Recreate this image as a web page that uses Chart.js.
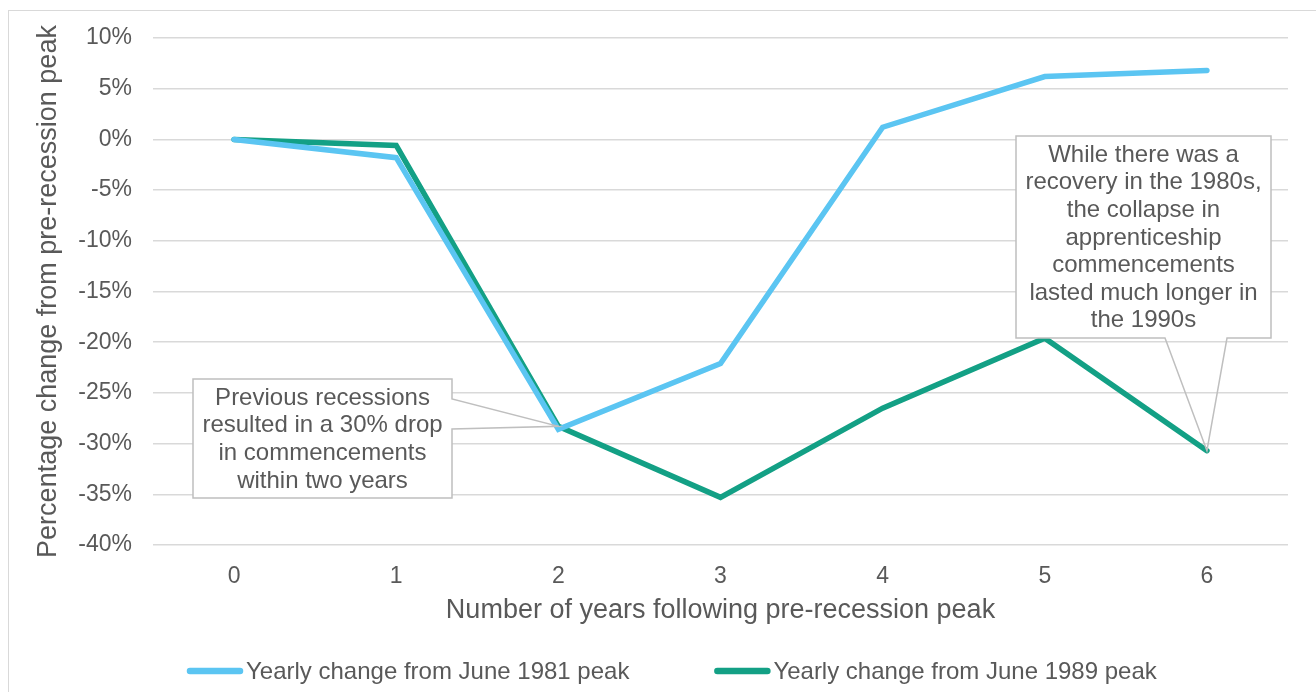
<!DOCTYPE html>
<html>
<head>
<meta charset="utf-8">
<script src="https://cdn.jsdelivr.net/npm/chart.js@4.4.1/dist/chart.umd.min.js"></script>
<style>
  html, body { margin: 0; padding: 0; background: #fff; }
  #wrap { position: relative; width: 1316px; height: 692px; overflow: hidden; }
  #frame { position: absolute; left: 8px; top: 10px; width: 1400px; height: 800px;
           border-left: 1.5px solid #d9d9d9; border-top: 1.5px solid #d9d9d9; box-sizing: border-box; }
  canvas { position: absolute; left: 0; top: 0; }
</style>
</head>
<body>
<div id="wrap">
  <div id="frame"></div>
  <canvas id="c" width="1316" height="692"></canvas>
</div>
<script>
// Years after the pre-recession peak
const years = ['0', '1', '2', '3', '4', '5', '6'];

// Percentage change in apprenticeship commencements from the peak
const peak1981 = [0, -1.8, -28.6, -22.1, 1.2, 6.2, 6.8];
const peak1989 = [0, -0.6, -28.3, -35.3, -26.5, -19.6, -30.7];

const seriesNames = ['Yearly change from June 1981 peak', 'Yearly change from June 1989 peak'];

// Y axis range and step (percent)
const yMin = -40;
const yMax = 10;
const yStep = 5;

const xTitle = 'Number of years following pre-recession peak';
const yTitle = 'Percentage change from pre-recession peak';

const note1 = ['Previous recessions', 'resulted in a 30% drop', 'in commencements', 'within two years'];
const note2 = ['While there was a', 'recovery in the 1980s,', 'the collapse in', 'apprenticeship',
               'commencements', 'lasted much longer in', 'the 1990s'];

const FONT = '"Liberation Sans", Arial, sans-serif';
const TEXT = '#595959';
const BLUE = '#5BC5F2';
const TEAL = '#13A085';

// Callout boxes with a wedge pointing at a point of the 1989 series
const calloutPlugin = {
  id: 'callouts',
  afterDatasetsDraw(chart, args, opts) {
    const ctx = chart.ctx;
    const xs = chart.scales.x, ys = chart.scales.y;
    opts.items.forEach(it => {
      const ds = chart.data.datasets[it.dataset];
      const ax = xs.getPixelForValue(it.index);
      const ay = ys.getPixelForValue(ds.data[it.index]);
      const b = it.box;
      const L = b.x, T = b.y, R = b.x + b.w, B = b.y + b.h;
      ctx.save();
      ctx.fillStyle = '#ffffff';
      ctx.fillRect(L, T, b.w, b.h);
      ctx.strokeStyle = '#bfbfbf';
      ctx.lineWidth = 1.5;
      ctx.lineJoin = 'miter';
      ctx.beginPath();
      ctx.moveTo(L, T);
      ctx.lineTo(R, T);
      if (it.side === 'right') {
        ctx.lineTo(R, T + it.w1);
        ctx.lineTo(ax, ay);
        ctx.lineTo(R, T + it.w2);
        ctx.lineTo(R, B);
        ctx.lineTo(L, B);
      } else {
        ctx.lineTo(R, B);
        ctx.lineTo(L + it.w2, B);
        ctx.lineTo(ax, ay);
        ctx.lineTo(L + it.w1, B);
        ctx.lineTo(L, B);
      }
      ctx.closePath();
      ctx.stroke();
      ctx.fillStyle = TEXT;
      ctx.font = '24px ' + FONT;
      ctx.textAlign = 'center';
      ctx.textBaseline = 'middle';
      const lh = 27.6;
      const cx = L + b.w / 2;
      const cy = T + b.h / 2 + 1;
      const n = it.text.length;
      it.text.forEach((t, i) => ctx.fillText(t, cx, cy + (i - (n - 1) / 2) * lh));
      ctx.restore();
    });
  }
};

// Legend row below the x axis title
const legendPlugin = {
  id: 'lineLegend',
  afterDraw(chart, args, opts) {
    const ctx = chart.ctx;
    ctx.save();
    ctx.font = '24px ' + FONT;
    ctx.textBaseline = 'middle';
    ctx.textAlign = 'left';
    let x = opts.x;
    chart.data.datasets.forEach(ds => {
      ctx.strokeStyle = ds.borderColor;
      ctx.lineWidth = 6.5;
      ctx.lineCap = 'round';
      ctx.beginPath();
      ctx.moveTo(x + 3, opts.y);
      ctx.lineTo(x + opts.mark - 3, opts.y);
      ctx.stroke();
      ctx.fillStyle = TEXT;
      ctx.fillText(ds.label, x + opts.mark + opts.gap, opts.y + 1);
      x += opts.mark + opts.gap + ctx.measureText(ds.label).width + opts.spacing;
    });
    ctx.restore();
  }
};

const lineStyle = { borderWidth: 5.5, borderCapStyle: 'round', borderJoinStyle: 'miter',
                    pointRadius: 0, pointHoverRadius: 0, fill: false, tension: 0 };

new Chart(document.getElementById('c'), {
  type: 'line',
  data: {
    labels: years,
    datasets: [
      Object.assign({ label: seriesNames[0], data: peak1981, borderColor: BLUE, backgroundColor: BLUE }, lineStyle),
      Object.assign({ label: seriesNames[1], data: peak1989, borderColor: TEAL, backgroundColor: TEAL }, lineStyle)
    ]
  },
  options: {
    responsive: false,
    animation: false,
    devicePixelRatio: 1,
    layout: { padding: { top: 38, right: 28, left: 0, bottom: 0 } },
    plugins: {
      legend: { display: false },
      tooltip: { enabled: false },
      callouts: {
        items: [
          { dataset: 1, index: 2, side: 'right', box: { x: 193, y: 379, w: 259, h: 119 }, w1: 20, w2: 50, text: note1 },
          { dataset: 1, index: 6, side: 'bottom', box: { x: 1016, y: 136, w: 255, h: 202 }, w1: 149, w2: 211, text: note2 }
        ]
      },
      lineLegend: { x: 187, y: 671, mark: 56, gap: 3, spacing: 85 }
    },
    scales: {
      x: {
        type: 'category',
        offset: true,
        grid: { display: false, drawTicks: false },
        border: { display: false },
        ticks: { color: TEXT, font: { family: FONT, size: 23 }, padding: 18, maxRotation: 0 },
        title: { display: true, text: xTitle, color: TEXT, font: { family: FONT, size: 27 },
                 padding: { top: 0, bottom: 65 } },
        afterFit(scale) { scale.height = 147; }
      },
      y: {
        min: yMin,
        max: yMax,
        grid: { color: '#d9d9d9', lineWidth: 1.5, drawTicks: false },
        border: { display: false },
        ticks: { stepSize: yStep, color: TEXT, font: { family: FONT, size: 23 }, padding: 21,
                 callback: v => v + '%' },
        title: { display: true, text: yTitle, color: TEXT, font: { family: FONT, size: 27 },
                 padding: { top: 32, bottom: 0 } },
        afterFit(scale) { scale.width = 153; }
      }
    }
  },
  plugins: [calloutPlugin, legendPlugin]
});
</script>
</body>
</html>
